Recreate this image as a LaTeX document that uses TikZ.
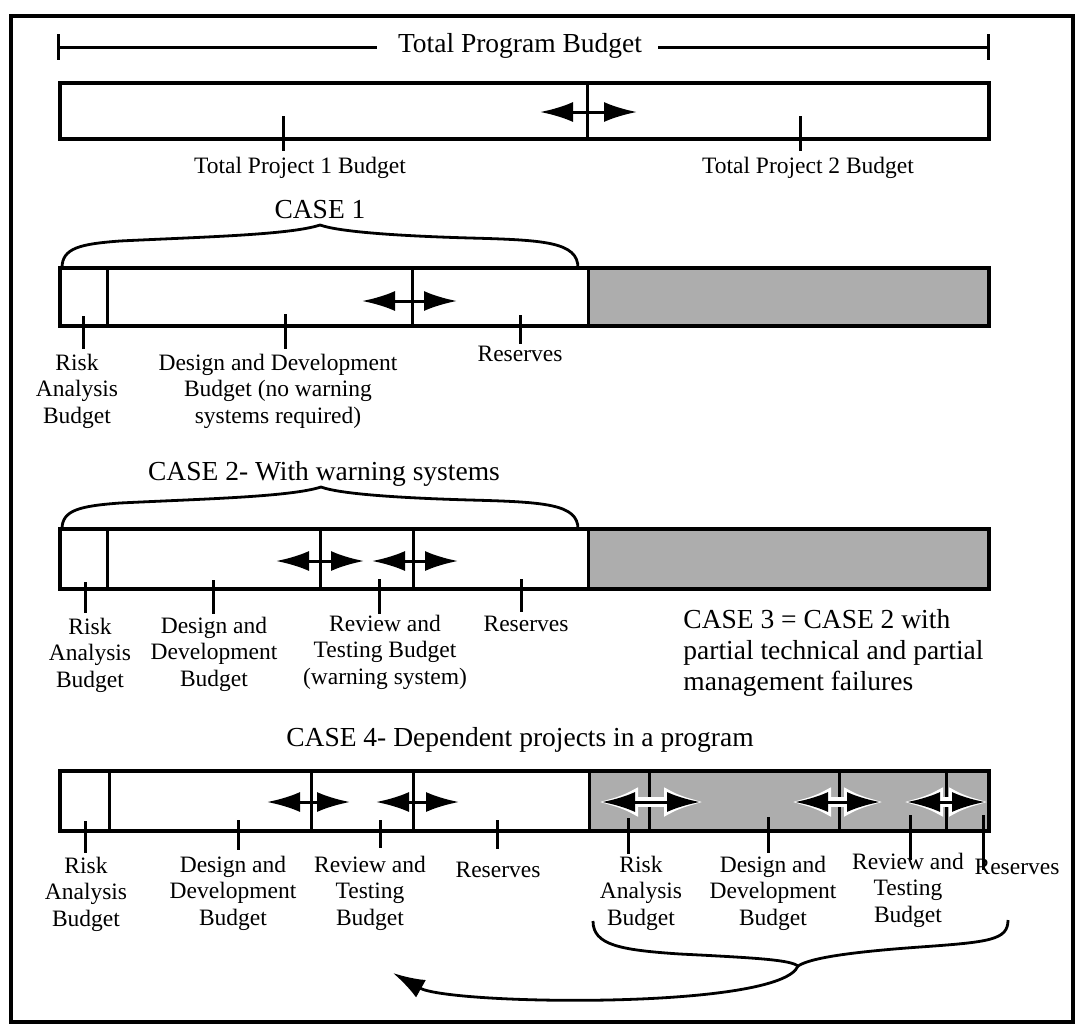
\documentclass[tikz,border=0pt]{standalone}
\usepackage{fontspec}
\setmainfont{Liberation Serif}
\usetikzlibrary{arrows.meta}

\tikzset{
  outerframe/.style={line width=1.8pt},
  barline/.style={line width=2pt},
  divline/.style={line width=1.5pt},
  tickline/.style={line width=1.5pt},
  braceline/.style={line width=1.4pt},
  shaded/.style={fill=black!32},
  dbl/.style={line width=1.5pt,
    {Latex[length=16.5pt,width=10pt]}-{Latex[length=16.5pt,width=10pt]}},
  halo/.style={draw=white, line width=5pt,
    {Latex[length=20pt,width=15pt]}-{Latex[length=20pt,width=15pt]},
    shorten <=-2pt, shorten >=-2pt},
  headline/.style={font=\fontsize{13.75}{15.5}\selectfont, inner sep=0pt, anchor=base},
  % multi-line labels: the base anchor sits on the last line
  lbl/.style={font=\fontsize{11.75}{13.25}\selectfont, inner sep=0pt, anchor=base, align=center},
}

\begin{document}
\begin{tikzpicture}[x=0.5pt, y=-0.5pt]
\useasboundingbox (0,0) rectangle (1081,1029);

% outer frame
\draw[outerframe] (11,16) rectangle (1073,1022);

% ---------- total program budget ----------
\node[headline] (tpb) at (520,52) {Total Program Budget};
\coordinate (tpL) at (58,47);
\coordinate (tpR) at (988,47);
\draw[tickline] (58,34) -- (58,60);
\draw[tickline] (988,34) -- (988,60);
\draw[tickline] (tpL) -- (377,47);
\draw[tickline] (658,47) -- (tpR);

\draw[barline] (60,83) rectangle (989,139);
\draw[divline] (587,83) -- (587,139);
\draw[dbl] (540,112) -- (637,112);
\draw[tickline] (283,116) -- (283,151);
\draw[tickline] (800,116) -- (800,151);
\node[lbl] (p1) at (300,173) {Total Project 1 Budget};
\node[lbl] (p2) at (808,173) {Total Project 2 Budget};

% ---------- case 1 ----------
\node[headline] (c1) at (320,218) {CASE 1};
\draw[braceline] (62,268) .. controls (62,248) and (80,244) .. (120,241)
  .. controls (200,237) and (290,235) .. (320,225)
  .. controls (340,232) and (400,236) .. (470,238)
  .. controls (545,240) and (578,242) .. (578,268);

\fill[shaded] (588,268) rectangle (989,326);
\draw[barline] (60,268) rectangle (989,326);
\foreach \xx in {107,412,588} \draw[divline] (\xx,268) -- (\xx,326);
\draw[dbl] (362,301) -- (457,301);
\draw[tickline] (83,316) -- (83,349);
\draw[tickline] (285,314) -- (285,349);
\draw[tickline] (520,315) -- (520,344);
\node[lbl] (c1risk) at (77,423) {Risk\\Analysis\\Budget};
\node[lbl] (c1dd) at (278,423) {Design and Development\\Budget (no warning\\systems required)};
\node[lbl] (c1res) at (520,361) {Reserves};

% ---------- case 2 ----------
\node[headline] (c2) at (324,480) {CASE 2- With warning systems};
\begin{scope}[shift={(1,262)}]
\draw[braceline] (61,267) .. controls (61,248) and (79,244) .. (119,241)
  .. controls (199,237) and (289,235) .. (320,225)
  .. controls (339,232) and (399,236) .. (469,238)
  .. controls (544,240) and (577,242) .. (577,267);
\end{scope}

\fill[shaded] (588,529) rectangle (989,589);
\draw[barline] (60,529) rectangle (989,589);
\foreach \xx in {107,320,413,588} \draw[divline] (\xx,529) -- (\xx,589);
\draw[dbl] (276,561) -- (364,561);
\draw[dbl] (372,561) -- (458,561);
\draw[tickline] (85,582) -- (85,613);
\draw[tickline] (213,580) -- (213,614);
\draw[tickline] (379,579) -- (379,614);
\draw[tickline] (521,579) -- (521,612);
\node[lbl] (c2risk) at (90,687) {Risk\\Analysis\\Budget};
\node[lbl] (c2dd) at (214,686) {Design and\\Development\\Budget};
\node[lbl] (c2rt) at (385,684) {Review and\\Testing Budget\\(warning system)};
\node[lbl] (c2res) at (526,631) {Reserves};

% ---------- case 3 note ----------
\node[font=\fontsize{13.75}{15.5}\selectfont, inner sep=0pt, anchor=base west, align=left]
  (c3) at (683,690) {CASE 3 = CASE 2 with\\partial technical and partial\\management failures};

% ---------- case 4 ----------
\node[headline] (c4) at (520,746) {CASE 4- Dependent projects in a program};

\fill[shaded] (589,771) rectangle (989,831);
\draw[barline] (60,771) rectangle (989,831);
\foreach \xx in {109,311,413,589,649,839,946} \draw[divline] (\xx,771) -- (\xx,831);
\draw[dbl] (267,802) -- (350,802);
\draw[dbl] (376,802) -- (459,802);
% arrows on the shaded project, knocked out of the stipple
\draw[halo] (602,802) -- (700,802);
\draw[halo] (795,802) -- (880,802);
\draw[halo] (907,802) -- (985,802);
\draw[dbl] (602,802) -- (700,802);
\draw[dbl] (795,802) -- (880,802);
\draw[dbl] (907,802) -- (985,802);
\draw[barline] (60,771) rectangle (989,831);

\draw[tickline] (85,821) -- (85,853);
\draw[tickline] (238,820) -- (238,850);
\draw[tickline] (380,820) -- (380,848);
\draw[tickline] (497,820) -- (497,849);
\draw[tickline] (628,818) -- (628,854);
\draw[tickline] (768,817) -- (768,853);
\draw[tickline] (910,815) -- (910,860);
\draw[tickline] (983,815) -- (983,870);

\node[lbl] (c4risk) at (86,926) {Risk\\Analysis\\Budget};
\node[lbl] (c4dd) at (233,925) {Design and\\Development\\Budget};
\node[lbl] (c4rt) at (370,925) {Review and\\Testing\\Budget};
\node[lbl] (c4res) at (498,877) {Reserves};
\node[lbl] (c4riskb) at (641,925) {Risk\\Analysis\\Budget};
\node[lbl] (c4ddb) at (773,925) {Design and\\Development\\Budget};
\node[lbl] (c4rtb) at (908,922) {Review and\\Testing\\Budget};
\node[lbl] (c4resb) at (1017,874) {Reserves};

% brace under the second project, feeding back to the first
\coordinate (cusp) at (798,966);
\coordinate (back) at (393,973);
\draw[braceline] (593,921) .. controls (593,945) and (620,950) .. (680,954)
  .. controls (760,958) and (790,960) .. (cusp)
  .. controls (810,958) and (850,952) .. (920,947)
  .. controls (990,942) and (1008,940) .. (1008,920);
\draw[braceline, -{Latex[length=16pt,width=10pt]}] (cusp) .. controls (780,1010) and (450,1005) .. (back);

\end{tikzpicture}
\end{document}
